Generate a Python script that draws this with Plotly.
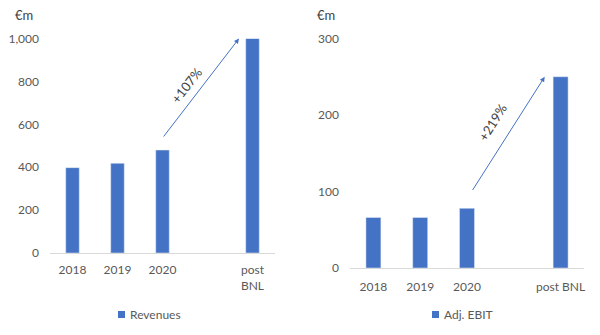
import plotly.graph_objects as go

# Category slots (a blank slot separates the actuals from the post-BNL figure)
categories = ["2018", "2019", "2020", " ", "post BNL"]
left_ticktext = ["2018", "2019", "2020", "", "post<br>BNL"]
right_ticktext = ["2018", "2019", "2020", "", "post BNL"]

revenues = [398, 418, 480, None, 1000]
adj_ebit = [66, 66, 78, None, 250]

revenue_growth = "+107%"
ebit_growth = "+219%"

BLUE = "#4472C4"
GREY = "#595959"
FONT = "Lato"
W, H = 600, 335

fig = go.Figure()

fig.add_trace(go.Bar(x=categories, y=revenues, name="Revenues", marker_color=BLUE,
                     width=0.3, xaxis="x", yaxis="y", showlegend=False))
fig.add_trace(go.Bar(x=categories, y=adj_ebit, name="Adj. EBIT", marker_color=BLUE,
                     width=0.32, xaxis="x2", yaxis="y2", showlegend=False))

idx = {c: i for i, c in enumerate(categories)}

axis_common = dict(showgrid=False, zeroline=False, ticks="",
                   tickfont=dict(family=FONT, size=12, color=GREY))

fig.update_layout(
    width=W, height=H,
    margin=dict(l=0, r=0, t=0, b=0, autoexpand=False),
    paper_bgcolor="white", plot_bgcolor="white",
    showlegend=False,
    xaxis=dict(domain=[50 / W, 275 / W], type="category",
               categoryorder="array", categoryarray=categories,
               tickmode="array", tickvals=categories, ticktext=left_ticktext,
               showline=True, linecolor="#D9D9D9", linewidth=1,
               ticklabelstandoff=6, anchor="y", **axis_common),
    yaxis=dict(domain=[(H - 253) / H, (H - 38.5) / H], range=[0, 1000],
               tickvals=[0, 200, 400, 600, 800, 1000], tickformat=",",
               showline=False, ticklabelstandoff=10, anchor="x", **axis_common),
    xaxis2=dict(domain=[350 / W, 584 / W], type="category",
                categoryorder="array", categoryarray=categories,
                tickmode="array", tickvals=categories, ticktext=right_ticktext,
                showline=True, linecolor="#D9D9D9", linewidth=1,
                ticklabelstandoff=8, anchor="y2", **axis_common),
    yaxis2=dict(domain=[(H - 268) / H, (H - 38.5) / H], range=[0, 300],
                tickvals=[0, 100, 200, 300],
                showline=False, ticklabelstandoff=10, anchor="x2", **axis_common),
)

# Legend keys: small square swatch plus series name under each chart
for key_x, label in ((118, "Revenues"), (432, "Adj. EBIT")):
    fig.add_shape(type="rect", xref="paper", yref="paper",
                  x0=key_x / W, x1=(key_x + 7) / W,
                  y0=1 - 318 / H, y1=1 - 311 / H,
                  fillcolor=BLUE, line=dict(width=0))
    fig.add_annotation(text=label, xref="paper", yref="paper",
                       x=(key_x + 10) / W, y=1 - 314 / H,
                       xanchor="left", yanchor="middle", showarrow=False,
                       font=dict(family=FONT, size=12, color=GREY))

# Unit labels above each value axis
for xpos in (24 / W, 326 / W):
    fig.add_annotation(text="€m", xref="paper", yref="paper", x=xpos, y=1 - 15 / H,
                       xanchor="center", yanchor="middle", showarrow=False,
                       font=dict(family=FONT, size=13, color="#404040"))

# Growth arrows from the 2020 bar towards the post-BNL bar
fig.add_annotation(xref="x", yref="y", axref="x", ayref="y",
                   x=idx[" "] + 0.7, y=revenues[4], ax=idx["2020"], ay=revenues[2] + 56,
                   showarrow=True, arrowhead=2, arrowsize=1, arrowwidth=1,
                   arrowcolor=BLUE, text="")
fig.add_annotation(xref="x", yref="y", x=idx["2020"] + 0.54, y=783, text=revenue_growth,
                   textangle=-52, showarrow=False,
                   font=dict(family=FONT, size=13, color="#404040"))

fig.add_annotation(xref="x2", yref="y2", axref="x2", ayref="y2",
                   x=idx[" "] + 0.66, y=adj_ebit[4], ax=idx["2020"] + 0.1, ay=adj_ebit[2] + 22,
                   showarrow=True, arrowhead=2, arrowsize=1, arrowwidth=1,
                   arrowcolor=BLUE, text="")
fig.add_annotation(xref="x2", yref="y2", x=idx["2020"] + 0.55, y=191, text=ebit_growth,
                   textangle=-58, showarrow=False,
                   font=dict(family=FONT, size=13, color="#404040"))

fig.write_html("out.html")
